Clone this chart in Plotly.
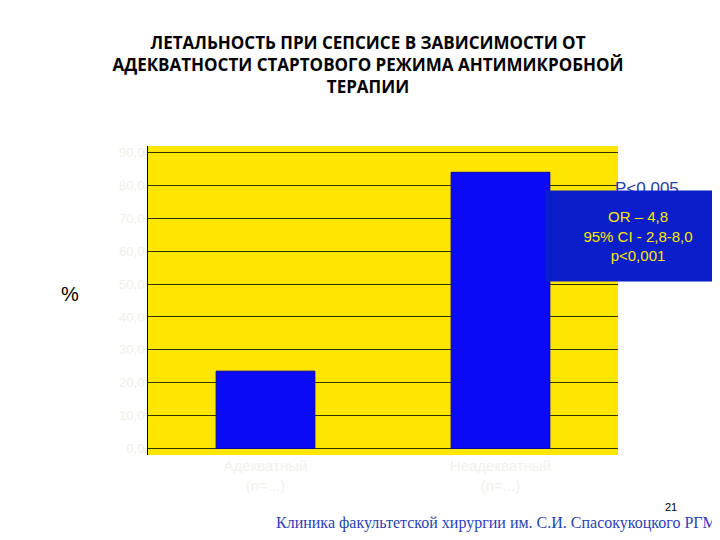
import plotly.graph_objects as go

# Data
groups = ["Адекватный<br>(n=...)", "Неадекватный<br>(n=...)"]
mortality = [23.5, 84.0]
tick_vals = [0, 10, 20, 30, 40, 50, 60, 70, 80, 90]
tick_text = ["0,0", "10,0", "20,0", "30,0", "40,0", "50,0", "60,0", "70,0", "80,0", "90,0"]

fig = go.Figure(go.Bar(
    x=groups, y=mortality, width=0.42,
    marker=dict(color="#0a0af5", line=dict(color="#0000b0", width=1)),
))

fig.update_layout(
    width=720, height=540,
    paper_bgcolor="white", plot_bgcolor="#ffe600",
    margin=dict(l=140, r=110, t=138, b=93),
    showlegend=False,
    font=dict(family="Liberation Sans"),
    title=dict(
        text="<b>ЛЕТАЛЬНОСТЬ ПРИ СЕПСИСЕ В ЗАВИСИМОСТИ ОТ<br>АДЕКВАТНОСТИ СТАРТОВОГО РЕЖИМА АНТИМИКРОБНОЙ<br>ТЕРАПИИ</b>",
        x=0.5, xanchor="center", y=0.925, yanchor="top",
        font=dict(family="Open Sans", size=17, color="black"),
    ),
    xaxis=dict(showline=False, tickfont=dict(size=15, color="#f2f2ec")),
    yaxis=dict(range=[-2, 92], tickvals=tick_vals, ticktext=tick_text,
               showgrid=True, gridcolor="#333300", gridwidth=1, zeroline=False,
               showline=True, linecolor="black",
               tickfont=dict(size=13, color="#f0f0ea")),
    annotations=[
        dict(text="%", xref="paper", yref="paper", x=-0.19, y=0.52, showarrow=False,
             font=dict(size=20, color="black")),
        dict(text="P<0,005", xref="paper", yref="paper", x=0.99, y=0.90,
             xanchor="left", showarrow=False, font=dict(size=17, color="#1f3fa0")),
        dict(text="OR – 4,8<br>95% CI - 2,8-8,0<br>p<0,001", xref="paper", yref="paper",
             x=1.24, y=0.56, xanchor="right", yanchor="bottom", showarrow=False,
             bgcolor="#0a1fc9", width=182, height=88, font=dict(size=15, color="#ffe600")),
        dict(text="21", xref="paper", yref="paper", x=1.13, y=-0.195, showarrow=False,
             font=dict(size=11, color="black")),
        dict(text="Клиника факультетской хирургии им. С.И. Спасокукоцкого РГМУ",
             xref="paper", yref="paper", x=1.24, y=-0.255, xanchor="right",
             showarrow=False, font=dict(family="Liberation Serif", size=16, color="#2a3fb5")),
    ],
)

fig.write_html("out.html")
